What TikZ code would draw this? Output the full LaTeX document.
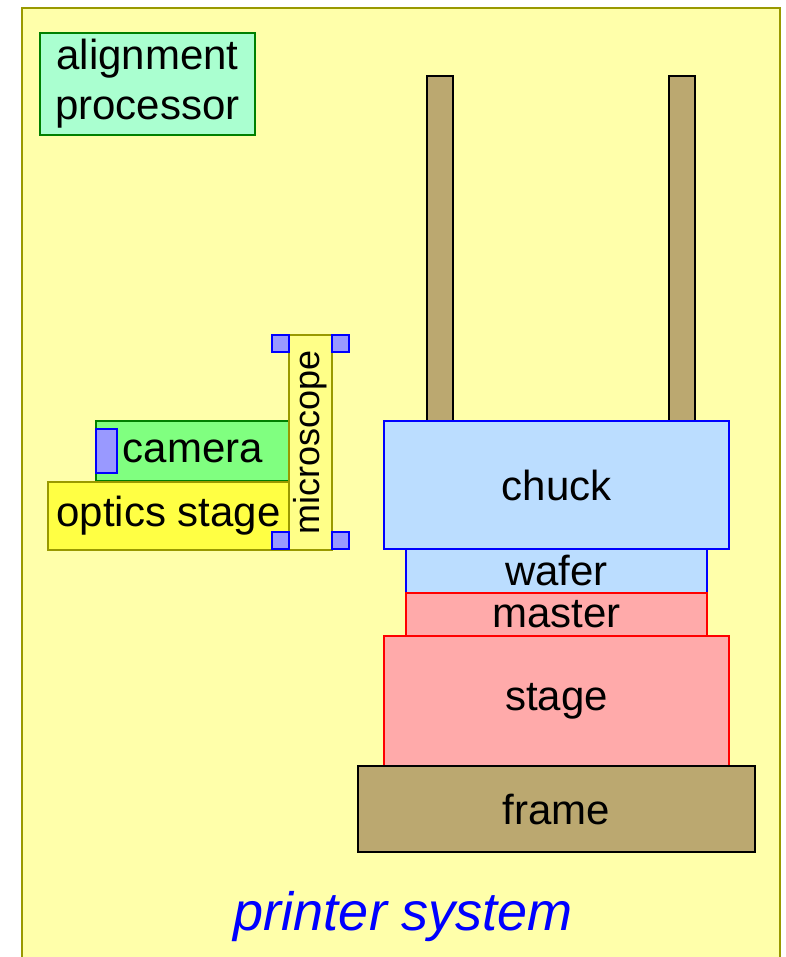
\documentclass[tikz,border=0pt]{standalone}
\usepackage{fontspec}
\setmainfont{Liberation Sans}
\definecolor{bgyellow}{HTML}{FFFFAA}
\definecolor{olivec}{HTML}{999900}
\definecolor{tan}{HTML}{BBA870}
\definecolor{lightblue}{HTML}{BBDDFF}
\definecolor{pinkc}{HTML}{FFAAAA}
\definecolor{mint}{HTML}{AAFFD0}
\definecolor{darkgreen}{HTML}{008000}
\definecolor{camgreen}{HTML}{80FF80}
\definecolor{optyellow}{HTML}{FFFF44}
\definecolor{micyellow}{HTML}{FFFF88}
\definecolor{sqblue}{HTML}{9999FF}
\begin{document}
\begin{tikzpicture}[x=1pt,y=-1pt,
  box/.style={draw, line width=1.5pt, inner sep=0pt, outer sep=0pt, anchor=north west,
    font=\fontsize{42}{50}\selectfont, text=black},
  tanbox/.style={box, fill=tan, draw=black},
  bluebox/.style={box, fill=lightblue, draw=blue},
  redbox/.style={box, fill=pinkc, draw=red},
  handle/.style={box, fill=sqblue, draw=blue, minimum width=17pt, minimum height=17pt}
]
\useasboundingbox (0,0) rectangle (785,957);
% outer system box
\node[box, draw=olivec, fill=bgyellow, minimum width=758pt, minimum height=980pt] (sys) at (22,8) {};
% alignment processor
\node[box, draw=darkgreen, fill=mint, minimum width=215pt, minimum height=102pt, align=center] (proc) at (40,33) {alignment\\processor};
% posts
\node[tanbox, minimum width=26pt, minimum height=345pt] (postL) at (427,76) {};
\node[tanbox, minimum width=26pt, minimum height=345pt] (postR) at (669,76) {};
% stack
\node[bluebox, minimum width=345pt, minimum height=128pt] (chuck) at (384,421) {chuck};
\node[bluebox, minimum width=301pt, minimum height=44pt] (wafer) at (406,549) {wafer};
\node[redbox, minimum width=301pt, minimum height=43pt] (master) at (406,593) {master};
\node[redbox, minimum width=345pt, minimum height=130pt] (stage) at (384,636) {stage};
\node[tanbox, minimum width=397pt, minimum height=86pt] (frame) at (358,766) {frame};
% optics
\node[box, draw=darkgreen, fill=camgreen, minimum width=194pt, minimum height=60pt] (camera) at (96,421) {camera};
\node[handle, minimum width=21pt, minimum height=44pt] (camsq) at (96,429) {};
\node[box, draw=olivec, fill=optyellow, minimum width=241pt, minimum height=68pt] (optics) at (48,482) {optics stage};
\node[box, draw=olivec, fill=micyellow, minimum width=43pt, minimum height=215pt] (micro) at (289,335) {};
\node[font=\fontsize{36}{42}\selectfont, rotate=90, inner sep=0pt] (microtxt) at (micro.center) {microscope};
\node[handle] (h1) at (272,335) {};
\node[handle] (h2) at (332,335) {};
\node[handle] (h3) at (272,532) {};
\node[handle] (h4) at (332,532) {};
% title
\node[anchor=base, inner sep=0pt, text=blue, font=\fontsize{54}{60}\selectfont\itshape] (title) at (403.5,930) {printer system};
\end{tikzpicture}
\end{document}
